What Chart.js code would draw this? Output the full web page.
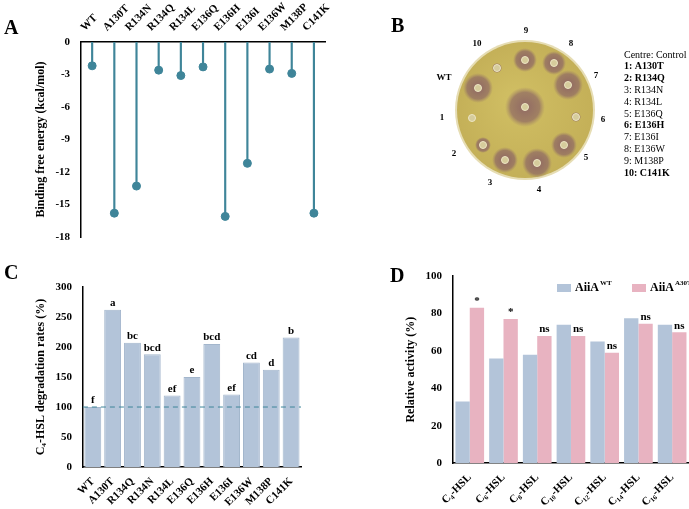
<!DOCTYPE html>
<html><head><meta charset="utf-8">
<script src="https://cdn.jsdelivr.net/npm/chart.js@4/dist/chart.umd.min.js"></script>
<style>
body{margin:0;background:#fff;width:689px;height:509px;position:relative;overflow:hidden;font-family:"Liberation Serif",serif}
.p{position:absolute}
.lab{position:absolute;font:bold 20px "Liberation Serif",serif}
</style></head><body>
<div class="p" style="left:0;top:0;width:345px;height:255px"><canvas id="cA"></canvas></div>
<canvas id="cB" class="p" width="344" height="255" style="left:345px;top:0"></canvas>
<div class="p" style="left:0;top:255px;width:345px;height:254px"><canvas id="cC"></canvas></div>
<div class="p" style="left:345px;top:255px;width:344px;height:254px"><canvas id="cD"></canvas></div>
<div class="lab" style="left:4px;top:16px">A</div>
<div class="lab" style="left:391px;top:14px">B</div>
<div class="lab" style="left:4px;top:261px">C</div>
<div class="lab" style="left:390px;top:264px">D</div>
<script>
/* DATA */
const mutantsA = ["WT","A130T","R134N","R134Q","R134L","E136Q","E136H","E136I","E136W","M138P","C141K"];
const energyA = [-2.2,-15.8,-13.3,-2.6,-3.1,-2.3,-16.1,-11.2,-2.5,-2.9,-15.8];

const mutantsC = ["WT","A130T","R134Q","R134N","R134L","E136Q","E136H","E136I","E136W","M138P","C141K"];
const rateC = [100,262,207,188,119,150,205,121,174,162,216];
const letterC = ["f","a","bc","bcd","ef","e","bcd","ef","cd","d","b"];

const substratesD = ["C₄-HSL","C₆-HSL","C₈-HSL","C₁₀-HSL","C₁₂-HSL","C₁₄-HSL","C₁₆-HSL"];
const wtD = [33,56,58,74,65,77.5,74];
const a30tD = [83,77,68,68,59,74.5,70];
const sigD = ["*","*","ns","ns","ns","ns","ns"];

const plateLegend = ["Centre: Control","1: A130T","2: R134Q","3: R134N","4: R134L","5: E136Q","6: E136H","7: E136I","8: E136W","9: M138P","10: C141K"];
const boldLegend = [false,true,true,false,false,false,true,false,false,false,true];

const serif = "'Liberation Serif', serif";
Chart.defaults.font.family = serif;
Chart.defaults.color = "#000";
Chart.defaults.animation = false;
Chart.defaults.plugins.legend.display = false;
Chart.defaults.plugins.tooltip.enabled = false;
const tickFont = {family: serif, size: 11, weight: "bold"};
const titleFont = {family: serif, size: 12, weight: "bold"};
const blue = "#b3c4d9", pink = "#e8b3c1";

/* PANEL A */
const teal = "#3f8599";
new Chart(document.getElementById("cA"), {
  data: {
    labels: mutantsA,
    datasets: [
      {type:"bar", data: energyA, backgroundColor: teal, barThickness: 1.5},
      {type:"line", data: energyA, showLine:false, pointRadius:4, pointBackgroundColor: teal, pointBorderColor: teal}
    ]
  },
  options: {
    responsive:true, maintainAspectRatio:false,
    layout:{padding:{left:30,right:20,bottom:18,top:0}},
    scales:{
      x:{position:"top", offset:true, grid:{display:false}, border:{color:"#000",width:1.5},
         ticks:{font:tickFont, autoSkip:false, maxRotation:45, minRotation:45, padding:0}},
      y:{min:-18, max:0, grid:{display:false}, border:{color:"#000",width:1.5},
         ticks:{stepSize:3, font:tickFont},
         title:{display:true, text:"Binding free energy (kcal/mol)", font:titleFont}}
    }
  }
});

/* PANEL B: plate photo sketch */
(function(){
  const c = document.getElementById("cB").getContext("2d");
  const cx=180, cy=110, r=68;
  c.fillStyle="#e6ddb4"; c.beginPath(); c.arc(cx,cy,r+2,0,Math.PI*2); c.fill();
  const g=c.createRadialGradient(cx-10,cy-10,10,cx,cy,r);
  g.addColorStop(0,"#cfbd62"); g.addColorStop(1,"#c4b058");
  c.fillStyle=g; c.beginPath(); c.arc(cx,cy,r,0,Math.PI*2); c.fill();
  const wells=[[180,107,20],[133,88,15],[152,68,5],[180,60,12],[209,63,12],[223,85,15],[231,117,5],[219,145,13],[192,163,15],[160,160,13],[138,145,8],[127,118,0]];
  wells.forEach(w=>{
    if(w[2]>0){
      const h=c.createRadialGradient(w[0],w[1],2,w[0],w[1],w[2]);
      h.addColorStop(0,"rgba(140,100,100,0.9)"); h.addColorStop(0.7,"rgba(145,108,100,0.75)"); h.addColorStop(1,"rgba(160,130,100,0)");
      c.fillStyle=h; c.beginPath(); c.arc(w[0],w[1],w[2],0,Math.PI*2); c.fill();
    }
    c.fillStyle="#d6cc9c"; c.beginPath(); c.arc(w[0],w[1],3.5,0,Math.PI*2); c.fill();
    c.strokeStyle="#eee6c4"; c.lineWidth=1; c.stroke();
  });
  c.fillStyle="#000"; c.font="bold 9px "+serif; c.textAlign="center"; c.textBaseline="middle";
  [["9",181,31],["10",132,44],["8",226,44],["WT",99,78],["7",251,76],["1",97,118],["6",258,120],["2",109,154],["5",241,158],["3",145,183],["4",194,190]]
    .forEach(t=>c.fillText(t[0],t[1],t[2]));
  c.textAlign="left";
  plateLegend.forEach((t,i)=>{
    c.font=(boldLegend[i]?"bold ":"")+"10px "+serif;
    c.fillText(t,279,55+i*11.8);
  });
})();

/* annotation plugins */
const topText = {
  id:"topText",
  afterDatasetsDraw(chart, args, opts){
    const ctx=chart.ctx;
    ctx.save(); ctx.fillStyle="#000"; ctx.font="bold 11px "+serif; ctx.textAlign="center"; ctx.textBaseline="bottom";
    const meta=chart.getDatasetMeta(opts.ds);
    meta.data.forEach((b,i)=>ctx.fillText(opts.labels[i], b.x, b.y-1));
    ctx.restore();
  }
};
const refLine = {
  id:"refLine",
  afterDatasetsDraw(chart){
    const ctx=chart.ctx, y=chart.scales.y.getPixelForValue(100), a=chart.chartArea;
    ctx.save(); ctx.strokeStyle="#3f8599"; ctx.setLineDash([5,4]); ctx.lineWidth=1;
    ctx.beginPath(); ctx.moveTo(a.left,y); ctx.lineTo(a.right,y); ctx.stroke(); ctx.restore();
  }
};
const legendD = {
  id:"legendD",
  afterDraw(chart){
    const ctx=chart.ctx;
    const items=[[blue,"AiiA","WT",212],[pink,"AiiA","A30T",287]];
    ctx.save(); ctx.textBaseline="middle"; ctx.textAlign="left";
    items.forEach(it=>{
      ctx.fillStyle=it[0]; ctx.fillRect(it[3],29,14,8);
      ctx.fillStyle="#000"; ctx.font="bold 12px "+serif; ctx.fillText(it[1],it[3]+18,33);
      const w=ctx.measureText(it[1]).width;
      ctx.font="bold 7px "+serif; ctx.fillText(it[2],it[3]+19+w,28);
    });
    ctx.restore();
  }
};

/* PANEL C */
new Chart(document.getElementById("cC"), {
  type:"bar",
  data:{labels: mutantsC, datasets:[{data: rateC, backgroundColor:blue, borderColor:"#a3b6cc", borderWidth:1, categoryPercentage:0.85, barPercentage:1}]},
  options:{
    responsive:true, maintainAspectRatio:false,
    layout:{padding:{left:30,right:44,top:32,bottom:0}},
    plugins:{topText:{ds:0, labels:letterC}},
    scales:{
      x:{grid:{display:false}, border:{color:"#000",width:1.5}, ticks:{font:tickFont, autoSkip:false, maxRotation:45, minRotation:45, padding:0}},
      y:{min:0,max:300, grid:{display:false}, border:{color:"#000",width:1.5}, ticks:{stepSize:50, font:tickFont},
         title:{display:true, text:"C₄-HSL degradation rates (%)", font:titleFont}}
    }
  },
  plugins:[topText, refLine]
});

/* PANEL D */
new Chart(document.getElementById("cD"), {
  type:"bar",
  data:{labels: substratesD, datasets:[
    {data: wtD, backgroundColor:blue, categoryPercentage:0.85, barPercentage:1},
    {data: a30tD, backgroundColor:pink, categoryPercentage:0.85, barPercentage:1}
  ]},
  options:{
    responsive:true, maintainAspectRatio:false,
    layout:{padding:{left:55,right:0,top:21,bottom:0}},
    plugins:{topText:{ds:1, labels:sigD}},
    scales:{
      x:{grid:{display:false}, border:{color:"#000",width:1.5}, ticks:{font:tickFont, autoSkip:false, maxRotation:45, minRotation:45, padding:0}},
      y:{min:0,max:100, grid:{display:false}, border:{color:"#000",width:1.5}, ticks:{stepSize:20, font:tickFont},
         title:{display:true, text:"Relative activity (%)", font:titleFont}}
    }
  },
  plugins:[topText, legendD]
});
</script>
</body></html>
